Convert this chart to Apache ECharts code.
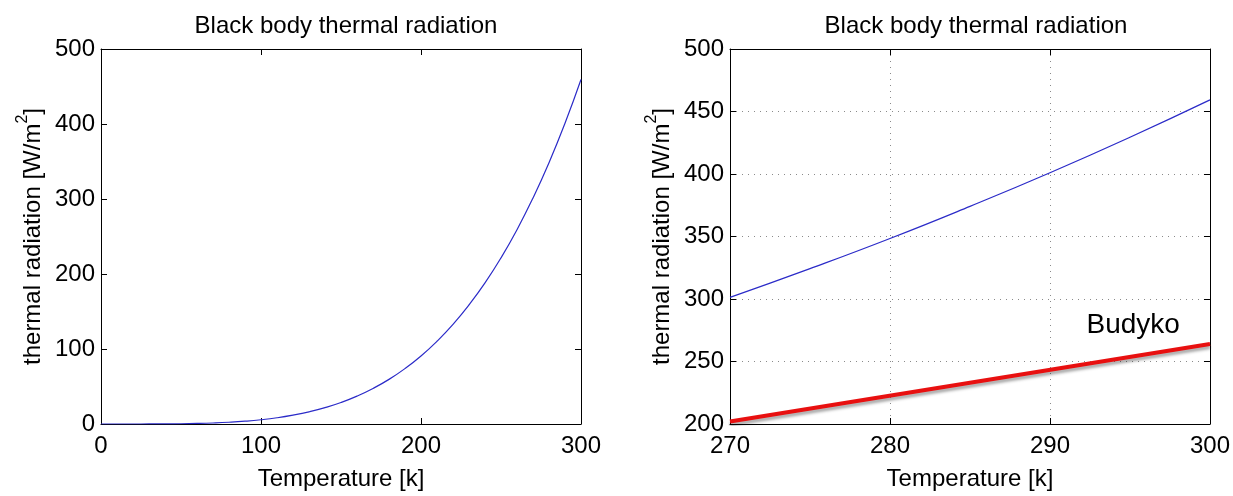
<!DOCTYPE html>
<html>
<head>
<meta charset="utf-8">
<script src="https://cdn.jsdelivr.net/npm/echarts@6/dist/echarts.min.js"></script>
<style>
html,body{margin:0;padding:0;background:#fff;}
#chart{width:1233px;height:496px;}
</style>
</head>
<body>
<div id="chart"></div>
<script>
// ---- data ----
const titleText = 'Black body thermal radiation';
const xName = 'Temperature [k]';
const yNameMain = 'thermal radiation [W/m';
const yNameSup = '2';
const yNameEnd = ']';

// left panel: full temperature range
const leftTemp = [0,10,20,30,40,50,60,70,80,90,100,110,120,130,140,150,160,170,180,190,200,210,220,230,240,250,260,270,280,290,300];
const leftRad  = [0,0,0.01,0.05,0.15,0.35,0.73,1.36,2.32,3.72,5.67,8.3,11.8,16.2,21.8,28.7,37.2,47.4,59.5,73.9,90.7,110.3,132.8,158.7,188.1,221.5,259.1,301.3,348.4,401,459.3];

// right panel: zoomed range
const rightTemp = [270,275,280,285,290,295,300];
const rightRad  = [301.3,324.3,348.4,374.1,401,429.4,459.3];

// Budyko linear approximation
const budykoTemp = [270,300];
const budykoRad  = [202,264];
const budykoLabelPos = [295.2, 279];

const leftXTicks = {min:0, max:300, interval:100};
const leftYTicks = {min:0, max:500, interval:100};
const rightXTicks = {min:270, max:300, interval:10};
const rightYTicks = {min:200, max:500, interval:50};

// ---- chart ----
const FONT = '"Liberation Sans", Arial, Helvetica, sans-serif';
const FS = 24;
const pair = (xs, ys) => xs.map((x, i) => [x, ys[i]]);

const axisLine = {show:true, onZero:false, lineStyle:{color:'#000', width:1}};
const tick = {show:true, inside:true, length:6, lineStyle:{color:'#000'}};
const gridLine = {show:true, lineStyle:{color:'#8a8a8a', type:[1,5], width:1}};

function mainX(t, gridIndex, grid) {
  return {type:'value', gridIndex, position:'bottom', min:t.min, max:t.max, interval:t.interval,
    axisLine, axisTick:tick,
    axisLabel:{show:true, color:'#000', fontSize:FS, fontFamily:FONT, margin:10},
    splitLine: grid ? gridLine : {show:false},
    name:xName, nameLocation:'middle', nameGap:43,
    nameTextStyle:{color:'#000', fontSize:FS, fontFamily:FONT}};
}
function mirrorX(t, gridIndex) {
  return {type:'value', gridIndex, position:'top', min:t.min, max:t.max, interval:t.interval,
    axisLine, axisTick:tick, axisLabel:{show:false}, splitLine:{show:false}};
}
function mainY(t, gridIndex, grid) {
  return {type:'value', gridIndex, position:'left', min:t.min, max:t.max, interval:t.interval,
    axisLine, axisTick:tick,
    axisLabel:{show:true, color:'#000', fontSize:FS, fontFamily:FONT, margin:6},
    splitLine: grid ? gridLine : {show:false},
    name:'{m|' + yNameMain + '}{s|' + yNameSup + '}{m|' + yNameEnd + '}',
    nameLocation:'middle', nameGap:56, nameRotate:90,
    nameTextStyle:{color:'#000', fontSize:FS, fontFamily:FONT,
      rich:{
        m:{fontSize:FS, fontFamily:FONT, color:'#000', lineHeight:30, verticalAlign:'bottom'},
        s:{fontSize:16, fontFamily:FONT, color:'#000', lineHeight:30, verticalAlign:'top'}
      }}};
}
function mirrorY(t, gridIndex) {
  return {type:'value', gridIndex, position:'right', min:t.min, max:t.max, interval:t.interval,
    axisLine, axisTick:tick, axisLabel:{show:false}, splitLine:{show:false}};
}

const chart = echarts.init(document.getElementById('chart'), null, {renderer:'canvas'});
chart.setOption({
  backgroundColor:'#fff',
  animation:false,
  title:[
    {text:titleText, left:341, top:9, textAlign:'center',
      textStyle:{fontSize:FS, fontWeight:'normal', color:'#000', fontFamily:FONT}},
    {text:titleText, left:971, top:9, textAlign:'center',
      textStyle:{fontSize:FS, fontWeight:'normal', color:'#000', fontFamily:FONT}}
  ],
  grid:[
    {left:101, top:49, width:480, height:379, containLabel:false},
    {left:730, top:49, width:482, height:379, containLabel:false}
  ],
  xAxis:[
    mainX(leftXTicks, 0, false),
    mirrorX(leftXTicks, 0),
    mainX(rightXTicks, 1, true),
    mirrorX(rightXTicks, 1)
  ],
  yAxis:[
    mainY(leftYTicks, 0, false),
    mirrorY(leftYTicks, 0),
    mainY(rightYTicks, 1, true),
    mirrorY(rightYTicks, 1)
  ],
  series:[
    {type:'line', xAxisIndex:0, yAxisIndex:0, data:pair(leftTemp, leftRad),
      smooth:true, showSymbol:false, lineStyle:{color:'#2b2bc8', width:1.2}},
    {type:'line', xAxisIndex:2, yAxisIndex:2, data:pair(rightTemp, rightRad),
      smooth:true, showSymbol:false, lineStyle:{color:'#2b2bc8', width:1.2}},
    {type:'line', xAxisIndex:2, yAxisIndex:2, data:pair(budykoTemp, budykoRad),
      showSymbol:false,
      lineStyle:{color:'#e81010', width:4, shadowColor:'rgba(0,0,0,0.35)', shadowBlur:3, shadowOffsetY:3},
      markPoint:{symbol:'circle', symbolSize:0, silent:true,
        data:[{coord:budykoLabelPos, value:'Budyko'}],
        label:{show:true, position:'inside', formatter:'Budyko', color:'#000', fontSize:28, fontFamily:FONT}}}
  ]
});
</script>
</body>
</html>
